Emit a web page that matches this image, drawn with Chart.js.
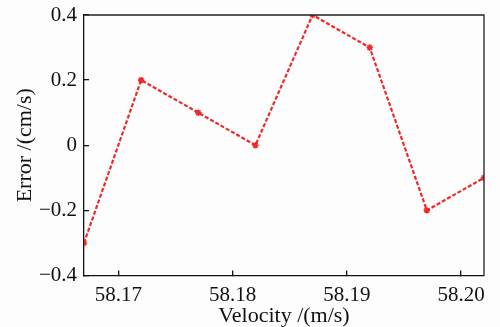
<!DOCTYPE html>
<html>
<head>
<meta charset="utf-8">
<script src="https://cdn.jsdelivr.net/npm/chart.js@4"></script>
<style>
    html, body { margin: 0; padding: 0; background: #fdfdfd; }
    #wrap { width: 500px; height: 327px; }
</style>
</head>
<body>
<div id="wrap"><canvas id="error-chart" width="500" height="327"></canvas></div>
<script>
const velocities = [58.167, 58.172, 58.177, 58.182, 58.187, 58.192, 58.197, 58.202];
const errors = [-0.3, 0.2, 0.1, 0, 0.4, 0.3, -0.2, -0.1];
const xTicks = [58.17, 58.18, 58.19, 58.20];
const yTicks = [-0.4, -0.2, 0, 0.2, 0.4];

const serif = "'Liberation Serif', 'DejaVu Serif', serif";

function formatTick(v, digits) {
    if (v === 0) return '0';
    return v.toFixed(digits).replace('-', '\u2212');
}

// closes the box on the top and right sides
const frame = {
    id: 'frame',
    afterDraw(chart) {
        const { ctx, chartArea: a } = chart;
        ctx.save();
        ctx.strokeStyle = '#222';
        ctx.lineWidth = 1.3;
        ctx.beginPath();
        ctx.moveTo(a.left, a.top);
        ctx.lineTo(a.right, a.top);
        ctx.lineTo(a.right, a.bottom);
        ctx.stroke();
        ctx.restore();
    }
};

const ctx = document.getElementById('error-chart').getContext('2d');
new Chart(ctx, {
    type: 'line',
    data: {
        datasets: [{
            data: velocities.map((v, i) => ({ x: v, y: errors[i] })),
            borderColor: '#f02828',
            backgroundColor: '#f02828',
            borderWidth: 2.2,
            borderDash: [4, 2],
            pointStyle: 'star',
            pointRadius: 3.2,
            pointBorderWidth: 1.6,
            tension: 0,
            fill: false
        }]
    },
    plugins: [frame],
    options: {
        responsive: false,
        animation: false,
        layout: { padding: { top: 15, right: 16, left: 0, bottom: 0 } },
        plugins: { legend: { display: false }, tooltip: { enabled: false } },
        scales: {
            x: {
                type: 'linear',
                min: 58.167,
                max: 58.202,
                afterBuildTicks: s => { s.ticks = xTicks.map(v => ({ value: v })); },
                afterFit: s => {
                    s.height = 51.5;
                    s.paddingLeft = 0;
                    s.paddingRight = 0;
                },
                grid: { drawOnChartArea: false, tickLength: -5, color: '#111', lineWidth: 1.3 },
                border: { color: '#111', width: 1.3 },
                ticks: {
                    color: '#111',
                    padding: 12,
                    maxRotation: 0,
                    font: { family: serif, size: 21 },
                    callback: v => formatTick(v, 2)
                },
                title: {
                    display: true,
                    text: 'Velocity /(m/s)',
                    color: '#111',
                    font: { family: serif, size: 22, lineHeight: 1.0 },
                    padding: 0
                }
            },
            y: {
                min: -0.4,
                max: 0.4,
                afterBuildTicks: s => { s.ticks = yTicks.map(v => ({ value: v })); },
                afterFit: s => {
                    s.width = 84;
                    s.paddingTop = 0;
                    s.paddingBottom = 0;
                },
                grid: { drawOnChartArea: false, tickLength: -5, color: '#111', lineWidth: 1.3 },
                border: { color: '#111', width: 1.3 },
                ticks: {
                    color: '#111',
                    padding: 12,
                    font: { family: serif, size: 21 },
                    callback: v => formatTick(v, 1)
                },
                title: {
                    display: true,
                    text: 'Error /(cm/s)',
                    color: '#111',
                    font: { family: serif, size: 22, lineHeight: 1.2 },
                    padding: { top: 12, bottom: 0 }
                }
            }
        }
    }
});
</script>
</body>
</html>
